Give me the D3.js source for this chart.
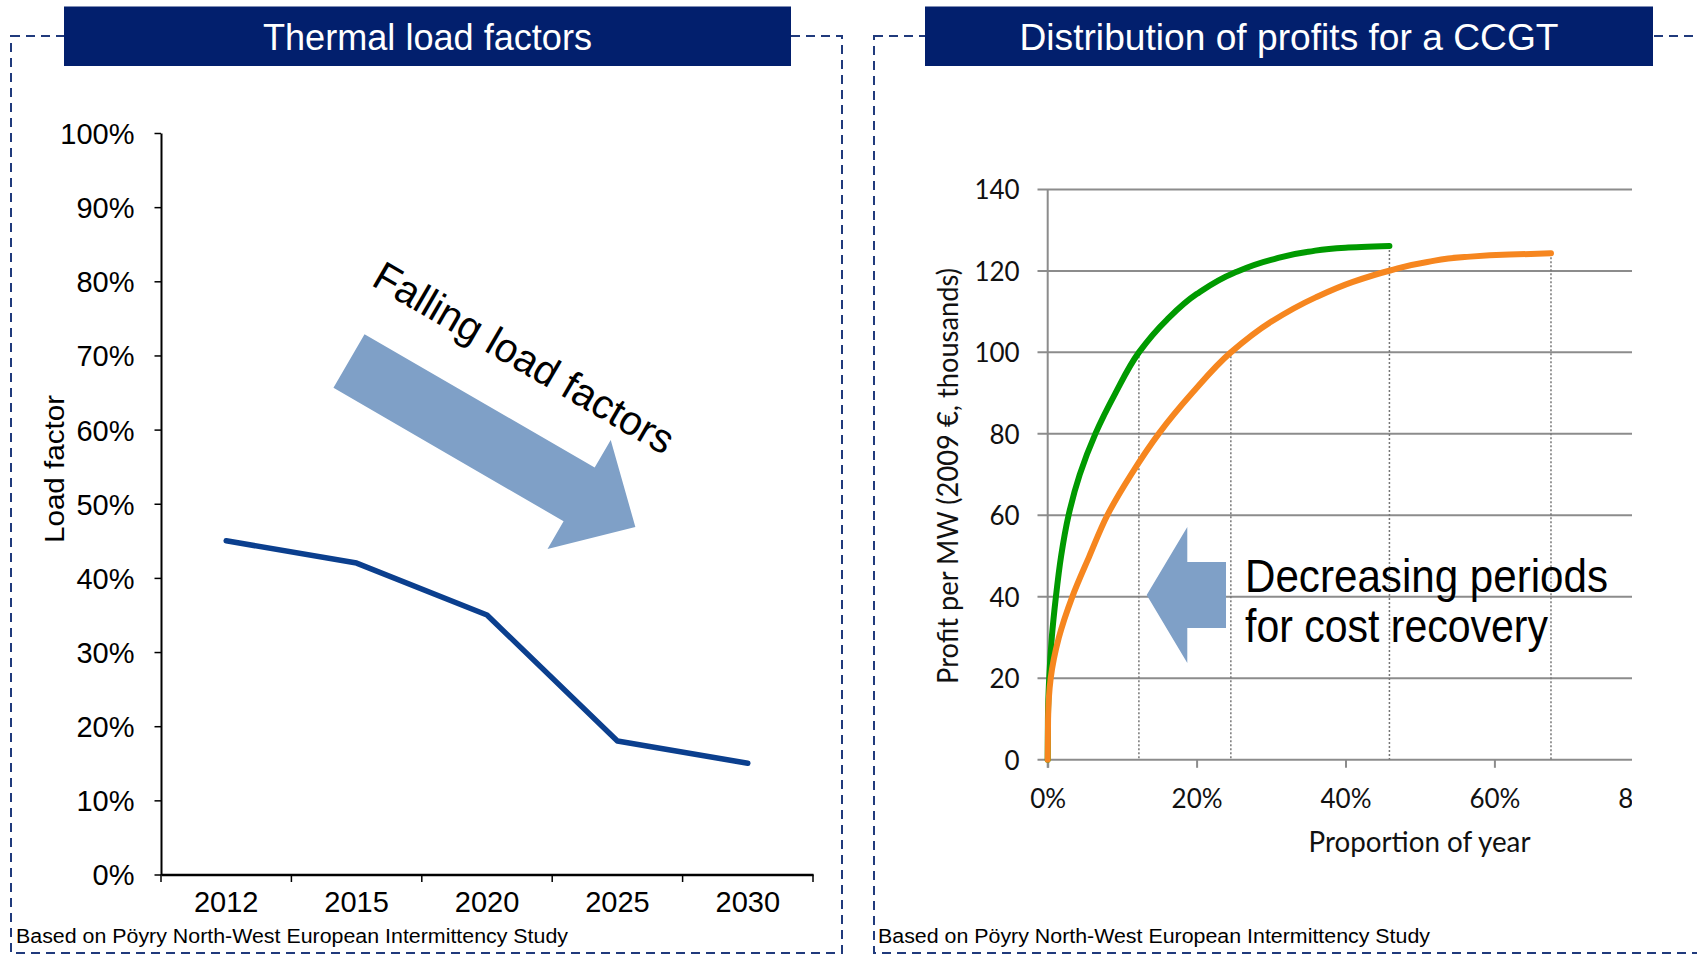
<!DOCTYPE html>
<html>
<head>
<meta charset="utf-8">
<script src="https://cdn.jsdelivr.net/npm/d3@7"></script>
<style>
  html, body { margin: 0; padding: 0; background: #ffffff; }
  svg { display: block; }
</style>
</head>
<body>
<svg id="chart" width="1697" height="956"></svg>
<script>
// ---- Thermal load factors (left panel) ----
const years = ["2012", "2015", "2020", "2025", "2030"];
const loadFactor = [0.45, 0.42, 0.35, 0.18, 0.15];
const loadTicks = [0, 0.1, 0.2, 0.3, 0.4, 0.5, 0.6, 0.7, 0.8, 0.9, 1.0];

// ---- Distribution of profits for a CCGT (right panel) ----
// cumulative profit per MW against the proportion of the year it is earned in
const greenShare  = [0, 0.0003, 0.002, 0.0055, 0.011, 0.018, 0.028, 0.043, 0.064, 0.091, 0.1225, 0.16, 0.20, 0.25, 0.30, 0.35, 0.40, 0.459];
const greenProfit = [0, 10, 20, 30, 40, 50, 60, 70, 80, 90, 100, 108, 114.3, 119.5, 122.7, 124.7, 125.7, 126.1];
const orangeShare  = [0, 0.0005, 0.004, 0.015, 0.033, 0.056, 0.080, 0.112, 0.149, 0.194, 0.246, 0.30, 0.36, 0.41, 0.46, 0.51, 0.56, 0.62, 0.676];
const orangeProfit = [0, 10, 20, 30, 40, 50, 60, 70, 80, 90, 100, 107.5, 113.5, 117.3, 120.1, 122.2, 123.4, 124.0, 124.3];
// dotted markers: where each curve reaches 100 and where each curve ends
const dropShare  = [0.1225, 0.246, 0.459, 0.676];
const dropProfit = [100, 100, 126.1, 124.3];
const profitTicks = [0, 20, 40, 60, 80, 100, 120, 140];
const shareTicks = [0, 0.2, 0.4, 0.6, 0.8];

const titles = ["Thermal load factors", "Distribution of profits for a CCGT"];
const sourceNote = "Based on P\u00f6yry North-West European Intermittency Study";

const ARIAL = "'Liberation Sans', Arial, sans-serif";
const HUMANIST = "Lato, 'Open Sans', sans-serif";
const NAVY = "#021f6d";
const BORDER = "#203a7c";
const ARROW = "#7fa0c7";

const svg = d3.select("#chart");

function fit(sel, width) {
  sel.attr("textLength", width).attr("lengthAdjust", "spacingAndGlyphs");
  return sel;
}

// ---- panel frames and title bars ----
const panels = [
  { x: 11, w: 831, boxX: 64, boxW: 727, titleW: 329, srcX: 16 },
  { x: 874, w: 900, boxX: 925, boxW: 728, titleW: 539, srcX: 878 }
];
panels.forEach((p, i) => {
  svg.append("rect")
    .attr("x", p.x).attr("y", 36).attr("width", p.w).attr("height", 917)
    .attr("fill", "none").attr("stroke", BORDER).attr("stroke-width", 2)
    .attr("stroke-dasharray", "9,6");
  svg.append("rect")
    .attr("x", p.boxX).attr("y", 6.5).attr("width", p.boxW).attr("height", 59.5)
    .attr("fill", NAVY);
  fit(svg.append("text")
    .attr("x", p.boxX + p.boxW / 2).attr("y", 50)
    .attr("text-anchor", "middle")
    .attr("font-family", ARIAL).attr("font-size", 37).attr("fill", "#ffffff")
    .text(titles[i]), p.titleW);
  fit(svg.append("text")
    .attr("x", p.srcX).attr("y", 943)
    .attr("font-family", ARIAL).attr("font-size", 20).attr("fill", "#000")
    .text(sourceNote), 552);
});

// ---- left chart ----
{
  const x = d3.scaleBand().domain(years).range([161, 813]).padding(0);
  const y = d3.scaleLinear().domain([0, 1]).range([874.5, 133]);

  const gy = svg.append("g").attr("transform", "translate(161,0)")
    .call(d3.axisLeft(y).tickValues(loadTicks).tickFormat(d3.format(".0%"))
      .tickSize(6.5).tickSizeOuter(0).tickPadding(20));
  gy.select(".domain").attr("stroke", "#000").attr("stroke-width", 2);
  gy.selectAll(".tick line").attr("stroke", "#000").attr("stroke-width", 1.5);
  gy.selectAll(".tick text").attr("font-family", ARIAL).attr("font-size", 29)
    .attr("fill", "#000").attr("dy", "0.36em");

  const gx = svg.append("g").attr("transform", "translate(0,874.5)")
    .call(d3.axisBottom(x).tickSize(0).tickSizeOuter(0).tickPadding(17));
  gx.select(".domain").attr("stroke", "#000").attr("stroke-width", 2.5);
  gx.selectAll(".tick text").attr("font-family", ARIAL).attr("font-size", 29)
    .attr("fill", "#000").attr("dy", "0.72em");

  // category boundary ticks
  const bounds = years.map(d => x(d)).concat([x(years[years.length - 1]) + x.bandwidth()]);
  gx.selectAll(".bound").data(bounds).enter().append("line")
    .attr("x1", d => d).attr("x2", d => d).attr("y1", 0).attr("y2", 7.5)
    .attr("stroke", "#000").attr("stroke-width", 1.5);

  fit(svg.append("text")
    .attr("transform", "translate(64,469) rotate(-90)")
    .attr("text-anchor", "middle")
    .attr("font-family", ARIAL).attr("font-size", 28).attr("fill", "#000")
    .text("Load factor"), 148);

  const line = d3.line()
    .x((d, i) => x(years[i]) + x.bandwidth() / 2)
    .y(d => y(d));
  svg.append("path").datum(loadFactor)
    .attr("d", line)
    .attr("fill", "none").attr("stroke", "#0b3f8e").attr("stroke-width", 5.5)
    .attr("stroke-linejoin", "round").attr("stroke-linecap", "round");

  // annotation arrow pointing down the trend
  const bigArrow = [[0, -31], [266, -31], [266, -63], [331, 0], [266, 63], [266, 31], [0, 31]];
  svg.append("polygon")
    .attr("points", bigArrow.map(p => p.join(",")).join(" "))
    .attr("transform", "translate(349,361) rotate(30.1)")
    .attr("fill", ARROW);

  fit(svg.append("text")
    .attr("transform", "translate(517,370) rotate(30.2)")
    .attr("text-anchor", "middle")
    .attr("font-family", ARIAL).attr("font-size", 41).attr("fill", "#000")
    .text("Falling load factors"), 340);
}

// ---- right chart ----
{
  const x = d3.scaleLinear().domain([0, 0.8]).range([1047.7, 1643.3]);
  const y = d3.scaleLinear().domain([0, 140]).range([759.8, 189.4]);
  const GRID = "#8c8c8c";

  svg.append("defs").append("clipPath").attr("id", "rightClip")
    .append("rect").attr("x", 860).attr("y", 100).attr("width", 772).attr("height", 800);

  const g = svg.append("g").attr("clip-path", "url(#rightClip)");

  // horizontal gridlines (the left end doubles as the tick mark)
  g.selectAll(".grid").data(profitTicks).enter().append("line")
    .attr("x1", 1037.5).attr("x2", x.range()[1])
    .attr("y1", d => y(d)).attr("y2", d => y(d))
    .attr("stroke", GRID).attr("stroke-width", 2);

  // vertical axis line
  g.append("line")
    .attr("x1", x(0)).attr("x2", x(0)).attr("y1", y(140)).attr("y2", y(0) + 8)
    .attr("stroke", GRID).attr("stroke-width", 2);

  const gy = g.append("g").attr("transform", `translate(${x(0)},0)`)
    .call(d3.axisLeft(y).tickValues(profitTicks).tickSize(10).tickSizeOuter(0).tickPadding(18));
  gy.select(".domain").remove();
  gy.selectAll(".tick line").remove();
  gy.selectAll(".tick text").attr("font-family", HUMANIST).attr("font-size", 26)
    .attr("fill", "#111").attr("dy", "0.36em");

  const gx = g.append("g").attr("transform", `translate(0,${y(0)})`)
    .call(d3.axisBottom(x).tickValues(shareTicks).tickFormat(d3.format(".0%"))
      .tickSize(8).tickSizeOuter(0).tickPadding(21));
  gx.select(".domain").remove();
  gx.selectAll(".tick line").attr("stroke", GRID).attr("stroke-width", 2);
  gx.selectAll(".tick text").attr("font-family", HUMANIST).attr("font-size", 26)
    .attr("fill", "#111").attr("dy", "0.72em");

  fit(g.append("text")
    .attr("x", 1419.5).attr("y", 852)
    .attr("text-anchor", "middle")
    .attr("font-family", HUMANIST).attr("font-size", 28).attr("fill", "#111")
    .text("Proportion of year"), 222);

  fit(g.append("text")
    .attr("transform", "translate(958,476) rotate(-90)")
    .attr("text-anchor", "middle")
    .attr("font-family", HUMANIST).attr("font-size", 28).attr("fill", "#111")
    .text("Profit per MW (2009 \u20ac, thousands)"), 416);

  // dotted drop lines
  g.selectAll(".drop").data(dropShare).enter().append("line")
    .attr("x1", d => x(d)).attr("x2", d => x(d))
    .attr("y1", (d, i) => y(dropProfit[i])).attr("y2", y(0))
    .attr("stroke", "#777").attr("stroke-width", 1.5)
    .attr("stroke-dasharray", "2,2");

  // profit rises steeply at first, so the curve is interpolated along the profit axis
  const curve = d3.line()
    .x(d => x(d[0])).y(d => y(d[1]))
    .curve(d3.curveMonotoneY);

  g.append("path").datum(d3.zip(greenShare, greenProfit))
    .attr("d", curve)
    .attr("fill", "none").attr("stroke", "#009a00").attr("stroke-width", 6)
    .attr("stroke-linecap", "round");
  g.append("path").datum(d3.zip(orangeShare, orangeProfit))
    .attr("d", curve)
    .attr("fill", "none").attr("stroke", "#f6861f").attr("stroke-width", 6)
    .attr("stroke-linecap", "round");

  // annotation: arrow pointing towards shorter periods
  const leftArrow = [[0, -33], [38.7, -33], [38.7, -68], [79.3, 0], [38.7, 68], [38.7, 33], [0, 33]];
  g.append("polygon")
    .attr("points", leftArrow.map(p => p.join(",")).join(" "))
    .attr("transform", "translate(1226,595) rotate(180)")
    .attr("fill", ARROW);

  fit(g.append("text")
    .attr("x", 1245).attr("y", 592)
    .attr("font-family", ARIAL).attr("font-size", 46).attr("fill", "#000")
    .text("Decreasing periods"), 363);
  fit(g.append("text")
    .attr("x", 1245).attr("y", 642)
    .attr("font-family", ARIAL).attr("font-size", 46).attr("fill", "#000")
    .text("for cost recovery"), 303);
}
</script>
</body>
</html>
